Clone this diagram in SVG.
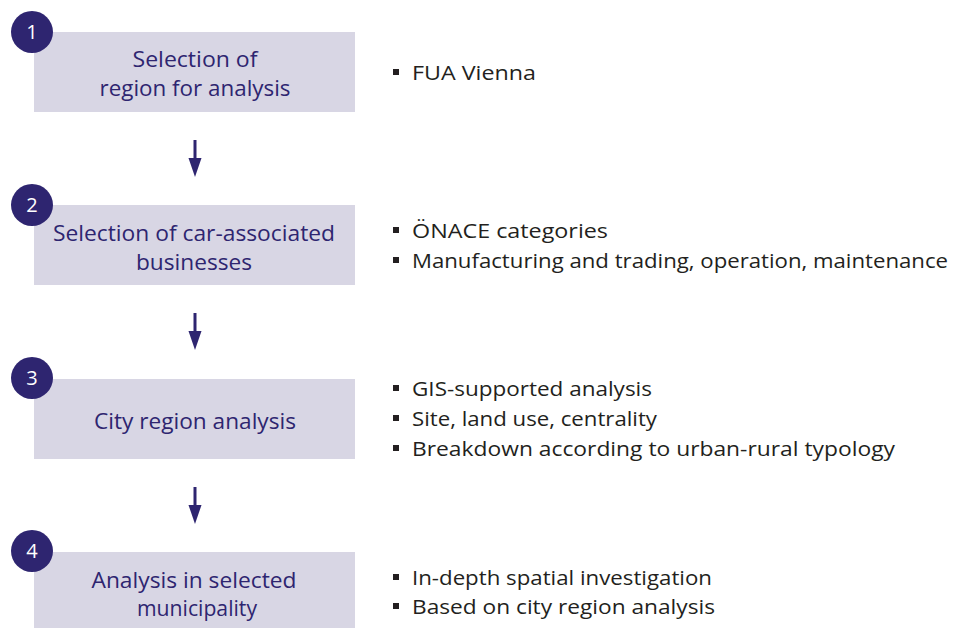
<svg xmlns="http://www.w3.org/2000/svg" width="954" height="628" viewBox="0 0 954 628">
<style>
.box{fill:#d8d6e4}
.num{fill:#2e2570}
.numt{font-family:"Open Sans","Liberation Sans",Arial,sans-serif;font-size:20px;fill:#ffffff;text-anchor:middle}
.bt{font-family:"Open Sans","Liberation Sans",Arial,sans-serif;font-size:21px;fill:#2e2570;text-anchor:middle}
.li{font-family:"Open Sans","Liberation Sans",Arial,sans-serif;font-size:20.5px;fill:#231f20}
.sq{fill:#231f20}
.ar{stroke:#2e2570;stroke-width:3;fill:none}
.ah{fill:#2e2570}
</style>
<rect width="954" height="628" fill="#ffffff"/>
<g id="node1">
<rect class="box" x="34" y="32" width="321" height="80"/>
<circle class="num" cx="32" cy="32" r="21"/>
<text class="numt" x="32" y="39">1</text>
<text class="bt" x="195" y="67" textLength="125" lengthAdjust="spacingAndGlyphs">Selection of</text>
<text class="bt" x="195" y="96" textLength="191" lengthAdjust="spacingAndGlyphs">region for analysis</text>
<rect class="sq" x="393" y="69" width="6" height="6"/>
<text class="li" x="412" y="80" textLength="124" lengthAdjust="spacingAndGlyphs">FUA Vienna</text>
</g>
<g id="node2">
<rect class="box" x="34" y="205" width="321" height="80"/>
<circle class="num" cx="32" cy="205" r="21"/>
<text class="numt" x="32" y="212">2</text>
<text class="bt" x="194" y="241" textLength="282" lengthAdjust="spacingAndGlyphs">Selection of car-associated</text>
<text class="bt" x="194" y="270" textLength="116" lengthAdjust="spacingAndGlyphs">businesses</text>
<rect class="sq" x="393" y="227" width="6" height="6"/>
<text class="li" x="412" y="238" textLength="196" lengthAdjust="spacingAndGlyphs">ÖNACE categories</text>
<rect class="sq" x="393" y="257" width="6" height="6"/>
<text class="li" x="412" y="268" textLength="536" lengthAdjust="spacingAndGlyphs">Manufacturing and trading, operation, maintenance</text>
</g>
<g id="node3">
<rect class="box" x="34" y="379" width="321" height="80"/>
<circle class="num" cx="32" cy="378" r="21"/>
<text class="numt" x="32" y="385">3</text>
<text class="bt" x="195" y="429" textLength="202" lengthAdjust="spacingAndGlyphs">City region analysis</text>
<rect class="sq" x="393" y="385" width="6" height="6"/>
<text class="li" x="412" y="396" textLength="240" lengthAdjust="spacingAndGlyphs">GIS-supported analysis</text>
<rect class="sq" x="393" y="415" width="6" height="6"/>
<text class="li" x="412" y="426" textLength="245" lengthAdjust="spacingAndGlyphs">Site, land use, centrality</text>
<rect class="sq" x="393" y="445" width="6" height="6"/>
<text class="li" x="412" y="456" textLength="483" lengthAdjust="spacingAndGlyphs">Breakdown according to urban-rural typology</text>
</g>
<g id="node4">
<rect class="box" x="34" y="552" width="321" height="76"/>
<circle class="num" cx="32" cy="551" r="21"/>
<text class="numt" x="32" y="558">4</text>
<text class="bt" x="194" y="588" textLength="205" lengthAdjust="spacingAndGlyphs">Analysis in selected</text>
<text class="bt" x="197" y="616" textLength="120" lengthAdjust="spacingAndGlyphs">municipality</text>
<rect class="sq" x="393" y="574" width="6" height="6"/>
<text class="li" x="412" y="585" textLength="300" lengthAdjust="spacingAndGlyphs">In-depth spatial investigation</text>
<rect class="sq" x="393" y="603" width="6" height="6"/>
<text class="li" x="412" y="614" textLength="303" lengthAdjust="spacingAndGlyphs">Based on city region analysis</text>
</g>
<g id="connectors">
<line class="ar" x1="195" y1="140" x2="195" y2="160"/>
<polygon class="ah" points="188.5,158 201.5,158 195,177"/>
<line class="ar" x1="195" y1="313" x2="195" y2="333"/>
<polygon class="ah" points="188.5,331 201.5,331 195,350"/>
<line class="ar" x1="195" y1="487" x2="195" y2="507"/>
<polygon class="ah" points="188.5,505 201.5,505 195,524"/>
</g>
</svg>
